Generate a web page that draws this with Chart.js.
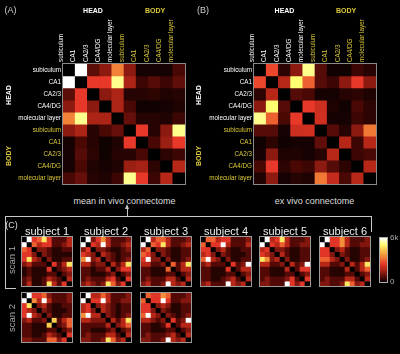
<!DOCTYPE html>
<html><head><meta charset="utf-8">
<script src="https://cdn.jsdelivr.net/npm/chart.js@4.4.1/dist/chart.umd.min.js"></script>
<style>
html,body{margin:0;padding:0;background:#000;width:400px;height:354px;overflow:hidden;}
#wrap{position:relative;width:400px;height:354px;font-family:"Liberation Sans",Arial,Helvetica,sans-serif;}
canvas{position:absolute;}
.t{position:absolute;white-space:nowrap;line-height:1;transform:translate(-50%,-50%);}
.v{transform:translate(-50%,-50%) rotate(-90deg);}
.ln{position:absolute;background:#c8c8c8;}
</style></head>
<body><div id="wrap">
<canvas id="cA" width="190" height="190" style="left:0;top:0"></canvas>
<canvas id="cB" width="190" height="190" style="left:191px;top:0"></canvas>
<canvas id="s1a" width="52" height="51" style="left:21px;top:236px"></canvas>
<canvas id="s2a" width="52" height="51" style="left:80px;top:236px"></canvas>
<canvas id="s3a" width="52" height="51" style="left:140px;top:236px"></canvas>
<canvas id="s4a" width="52" height="51" style="left:200px;top:236px"></canvas>
<canvas id="s5a" width="52" height="51" style="left:259px;top:236px"></canvas>
<canvas id="s6a" width="52" height="51" style="left:319px;top:236px"></canvas>
<canvas id="s1b" width="52" height="51" style="left:21px;top:292px"></canvas>
<canvas id="s2b" width="52" height="51" style="left:80px;top:292px"></canvas>
<canvas id="s3b" width="52" height="51" style="left:140px;top:292px"></canvas>
<canvas id="cbar" width="24" height="60" style="left:376px;top:230px"></canvas>

<div class="t" style="left:10.5px;top:10px;font-size:9px;color:#ccc">(A)</div>
<div class="t" style="left:203px;top:10px;font-size:9px;color:#ccc">(B)</div>
<div class="t" style="left:93px;top:9.5px;font-size:7px;font-weight:bold;color:#fff">HEAD</div>
<div class="t" style="left:155px;top:9.5px;font-size:7px;font-weight:bold;color:#dcc83a">BODY</div>
<div class="t" style="left:284.5px;top:9.5px;font-size:7px;font-weight:bold;color:#fff">HEAD</div>
<div class="t" style="left:346px;top:9.5px;font-size:7px;font-weight:bold;color:#dcc83a">BODY</div>
<div class="t v" style="left:8px;top:94.5px;font-size:7px;font-weight:bold;color:#fff">HEAD</div>
<div class="t v" style="left:8px;top:155.5px;font-size:7px;font-weight:bold;color:#dcc83a">BODY</div>
<div class="t v" style="left:198px;top:94.5px;font-size:7px;font-weight:bold;color:#fff">HEAD</div>
<div class="t v" style="left:198px;top:155.5px;font-size:7px;font-weight:bold;color:#dcc83a">BODY</div>
<div class="t" style="left:124.5px;top:200.5px;font-size:9px;color:#ddd">mean in vivo connectome</div>
<div class="t" style="left:314.5px;top:200.5px;font-size:9px;color:#ddd">ex vivo connectome</div>
<div class="t" style="left:11.5px;top:225px;font-size:9px;color:#ddd">(C)</div>
<div class="t" style="left:47px;top:230.5px;font-size:11px;color:#eee">subject 1</div>
<div class="t" style="left:106px;top:230.5px;font-size:11px;color:#eee">subject 2</div>
<div class="t" style="left:166px;top:230.5px;font-size:11px;color:#eee">subject 3</div>
<div class="t" style="left:226px;top:230.5px;font-size:11px;color:#eee">subject 4</div>
<div class="t" style="left:285px;top:230.5px;font-size:11px;color:#eee">subject 5</div>
<div class="t" style="left:345px;top:230.5px;font-size:11px;color:#eee">subject 6</div>
<div class="t v" style="left:11.5px;top:259.5px;font-size:9.5px;color:#aaa">scan 1</div>
<div class="t v" style="left:11.5px;top:317.5px;font-size:9.5px;color:#aaa">scan 2</div>

<div class="ln" style="left:5px;top:216px;width:367px;height:1px"></div>
<div class="ln" style="left:5px;top:216px;width:1px;height:73px"></div>
<div class="ln" style="left:5px;top:288px;width:11px;height:1px"></div>
<div class="ln" style="left:371px;top:216px;width:1px;height:16px"></div>
<div class="ln" style="left:127px;top:208px;width:1px;height:8px"></div>
<div style="position:absolute;left:125px;top:204px;width:0;height:0;border-left:2.5px solid transparent;border-right:2.5px solid transparent;border-bottom:5px solid #c8c8c8"></div>
</div>
<script>
// ---------------- data ----------------
const regions = ['subiculum','CA1','CA2/3','CA4/DG','molecular layer','subiculum','CA1','CA2/3','CA4/DG','molecular layer'];
const regionGroup = ['HEAD','HEAD','HEAD','HEAD','HEAD','BODY','BODY','BODY','BODY','BODY'];

// (A) mean in vivo connectome, normalised 0..1
const meanInVivo = [
  [0,1.0,0.13,0.22,0.57,0.22,0.03,0.03,0.03,0.10],
  [1.0,0,0.42,0.42,0.88,0.28,0.08,0.12,0.08,0.14],
  [0.13,0.42,0,0.22,0.28,0.05,0.05,0.06,0.04,0.05],
  [0.22,0.42,0.22,0,0.28,0.10,0.02,0.02,0.03,0.04],
  [0.57,0.88,0.28,0.28,0,0.15,0.05,0.05,0.04,0.08],
  [0.22,0.28,0.05,0.10,0.15,0,0.42,0.05,0.22,0.88],
  [0.03,0.10,0.05,0.02,0.04,0.42,0,0.10,0.25,0.42],
  [0.03,0.12,0.06,0.02,0.05,0.05,0.10,0,0.06,0.08],
  [0.03,0.10,0.04,0.03,0.04,0.25,0.27,0.06,0,0.30],
  [0.10,0.15,0.05,0.04,0.08,0.88,0.42,0.08,0.30,0]
];
// (B) ex vivo connectome, normalised 0..1
const exVivo = [
  [0,0.45,0.06,0.22,0.88,0.12,0.02,0.02,0.08,0.05],
  [0.45,0,0.30,0.85,0.50,0.12,0.08,0.22,0.42,0.22],
  [0.06,0.30,0,0.12,0.10,0.03,0.03,0.05,0.06,0.04],
  [0.22,0.85,0.12,0,0.42,0.35,0.04,0.02,0.10,0.06],
  [0.88,0.50,0.10,0.42,0,0.36,0.03,0.03,0.08,0.06],
  [0.12,0.12,0.03,0.35,0.36,0,0.12,0.05,0.22,0.55],
  [0.02,0.06,0.02,0.03,0.03,0.14,0,0.30,0.08,0.30],
  [0.03,0.22,0.04,0.04,0.03,0.05,0.30,0,0.08,0.10],
  [0.10,0.42,0.06,0.10,0.08,0.22,0.12,0.06,0,0.30],
  [0.04,0.22,0.03,0.05,0.04,0.55,0.33,0.10,0.30,0]
];
// (C) individual connectomes, streamline counts in thousands (colour bar 0..6k)
const cbarMax = 6;
const cbarTicks = [0, 6];
const s1scan1 = [
  [0,6,2.4,3,4.8,2.4,0.7,0.7,0.7,1.8],
  [6,0,3,1.8,2.4,2.4,0.7,0.7,1.2,1.8],
  [3,2.4,0,1.2,1.2,0.7,0.3,0.3,0.7,0.7],
  [2.4,2.4,1.2,0,1.2,0.7,0.3,0.3,0.3,0.3],
  [2.4,4.8,1.8,1.2,0,1.2,0.3,0.3,0.7,0.7],
  [1.2,1.8,0.7,0.7,0.7,0,2.4,0.7,1.8,4.8],
  [0.3,0.7,0.3,0.3,0.3,2.4,0,0.7,1.2,1.8],
  [0.3,0.7,0.3,0.3,0.3,0.7,0.7,0,0.7,1.2],
  [0.7,1.2,0.3,0.3,0.7,1.8,1.2,0.7,0,1.8],
  [0.7,1.8,0.3,0.3,0.7,4.8,1.8,0.7,2.4,0]
];
const s2scan1 = [
  [0,6,1.2,2.4,3.6,1.8,0.7,0.7,0.7,1.2],
  [6,0,2.4,1.8,6,1.8,0.7,0.7,1.2,1.8],
  [1.2,2.4,0,1.2,1.2,0.7,0.3,0.3,0.7,1.2],
  [2.4,1.8,1.2,0,1.8,1.2,0.7,0.3,0.7,0.7],
  [3.6,6,1.2,1.8,0,1.2,0.7,0.3,0.7,1.2],
  [1.8,1.8,0.7,1.2,1.2,0,1.8,0.7,1.8,4.8],
  [0.7,0.7,0.3,0.7,0.7,1.8,0,1.2,2.4,2.4],
  [0.7,0.7,0.3,0.3,0.3,0.7,1.2,0,0.7,1.2],
  [0.7,1.2,0.7,0.7,0.7,1.8,2.4,0.7,0,2.4],
  [1.2,1.8,1.2,0.7,1.2,4.8,3,1.2,2.4,0]
];
const s3scan1 = [
  [0,6,1.8,3,3,1.8,0.7,0.7,0.7,1.2],
  [6,0,3,2.4,4.8,1.8,0.7,0.7,1.2,1.8],
  [1.8,3,0,1.2,1.2,0.7,0.3,0.3,0.7,0.7],
  [3,2.4,1.2,0,1.2,0.7,0.3,0.3,0.7,0.7],
  [2.4,6,1.2,1.2,0,1.2,0.3,0.3,0.7,1.2],
  [1.8,1.8,0.7,0.7,1.2,0,3,0.7,1.8,4.8],
  [0.7,0.7,0.3,0.3,0.3,3,0,0.7,1.8,1.8],
  [0.7,0.7,0.3,0.3,0.3,0.7,0.7,0,0.7,1.2],
  [0.7,1.2,0.7,0.7,0.7,1.8,1.8,0.7,0,1.8],
  [1.2,1.8,0.7,0.7,1.2,6,1.8,1.2,1.8,0]
];
const s4scan1 = [
  [0,3,3,1.8,2.4,2.4,0.7,0.7,0.7,1.2],
  [3,0,2.4,2.4,6,1.8,0.7,0.7,0.7,1.8],
  [2.4,2.4,0,1.2,1.8,0.7,0.3,0.3,0.7,0.7],
  [1.8,2.4,1.2,0,1.2,0.7,0.3,0.3,0.3,0.7],
  [3,6,1.8,1.2,0,1.2,0.3,0.3,0.7,0.7],
  [1.2,1.8,0.7,0.7,0.7,0,2.4,0.7,1.2,6],
  [0.7,0.7,0.3,0.3,0.3,2.4,0,0.7,1.8,1.8],
  [0.7,0.7,0.3,0.3,0.3,0.7,0.7,0,0.7,1.2],
  [0.7,0.7,0.3,0.3,0.7,1.2,1.8,0.7,0,1.8],
  [1.2,1.8,0.7,0.7,0.7,6,1.8,1.2,1.8,0]
];
const s5scan1 = [
  [0,6,1.8,2.4,4.8,1.8,0.7,0.7,0.7,1.2],
  [6,0,2.4,1.8,3,1.8,0.7,0.7,1.2,1.2],
  [1.8,2.4,0,1.2,1.2,0.7,0.3,0.3,0.7,0.7],
  [2.4,1.8,1.2,0,1.8,0.7,0.3,0.3,0.7,0.7],
  [4.8,3.6,1.2,1.8,0,1.2,0.3,0.3,0.7,0.7],
  [1.8,1.8,0.7,0.7,1.2,0,1.8,0.7,1.2,6],
  [0.7,0.7,0.3,0.3,0.3,1.8,0,0.7,2.4,2.4],
  [0.7,0.7,0.3,0.3,0.3,0.7,0.7,0,0.7,1.2],
  [0.7,1.2,0.7,0.7,0.7,1.2,2.4,0.7,0,2.4],
  [1.2,1.2,0.7,0.7,0.7,6,2.4,1.2,2.4,0]
];
const s6scan1 = [
  [0,6,2.4,2.4,3.6,1.8,0.7,0.7,0.7,1.2],
  [6,0,2.4,2.4,3.6,1.8,0.7,0.7,1.2,1.2],
  [2.4,2.4,0,1.2,1.8,0.7,0.3,0.3,0.7,0.7],
  [2.4,2.4,1.2,0,1.2,0.7,0.3,0.3,0.7,0.7],
  [3,3,1.8,1.2,0,1.2,0.3,0.3,0.7,1.2],
  [1.8,1.8,0.7,0.7,1.2,0,1.8,0.7,1.8,4.8],
  [0.7,0.7,0.3,0.3,0.3,1.8,0,0.7,1.8,3],
  [0.7,0.7,0.3,0.3,0.3,0.7,0.7,0,0.7,1.2],
  [0.7,1.2,0.7,0.7,0.7,1.8,1.8,0.7,0,1.8],
  [1.2,1.2,0.7,0.7,1.2,4.8,3,1.2,1.8,0]
];
const s1scan2 = [
  [0,6,2.4,2.4,3,1.2,0.7,0.7,0.7,1.2],
  [6,0,3.6,1.8,6,1.8,0.7,0.7,0.7,1.2],
  [2.4,4.8,0,1.2,1.8,0.7,0.3,0.3,0.7,0.7],
  [2.4,1.8,1.2,0,1.2,0.7,0.3,0.3,0.3,0.7],
  [2.4,6,1.8,1.2,0,1.2,0.3,0.3,0.7,0.7],
  [1.2,1.8,0.7,0.7,1.2,0,4.5,0.7,1.8,3],
  [0.7,0.7,0.3,0.3,0.3,4.5,0,0.7,1.2,3],
  [0.7,0.7,0.3,0.3,0.3,0.7,0.7,0,0.7,1.2],
  [0.7,0.7,0.3,0.3,0.7,1.8,1.2,0.7,0,2.4],
  [1.2,1.2,0.7,0.7,0.7,3,3,1.2,2.4,0]
];
const s2scan2 = [
  [0,6,1.8,1.8,3,1.8,0.7,0.7,0.7,1.2],
  [6,0,2.4,2.4,6,1.8,0.7,0.7,1.2,1.2],
  [1.8,2.4,0,1.2,1.8,1.2,0.7,0.3,0.7,0.7],
  [1.8,2.4,1.2,0,1.8,1.2,0.7,0.3,0.7,0.7],
  [3.6,6,1.8,1.8,0,1.2,0.7,0.3,0.7,1.2],
  [1.8,1.8,1.2,1.2,1.2,0,1.8,0.7,1.8,4.8],
  [0.7,0.7,0.7,0.7,0.7,1.8,0,1.2,1.8,3],
  [0.7,0.7,0.3,0.3,0.3,0.7,1.2,0,0.7,1.2],
  [0.7,1.2,0.7,0.7,0.7,1.8,1.8,0.7,0,1.8],
  [1.2,1.2,0.7,0.7,1.2,4.8,3,1.2,1.8,0]
];
const s3scan2 = [
  [0,3,2.4,2.4,3.6,3,0.7,0.7,0.7,1.2],
  [3,0,2.4,2.4,6,2.4,0.7,0.7,1.2,1.2],
  [2.4,2.4,0,1.2,1.8,1.2,0.3,0.3,0.7,0.7],
  [2.4,2.4,1.2,0,1.2,0.7,0.3,0.3,0.7,0.7],
  [3,6,1.8,1.2,0,1.2,0.7,0.3,0.7,1.2],
  [1.8,1.8,1.2,0.7,1.2,0,2.4,0.7,1.2,6],
  [0.7,0.7,0.3,0.3,0.7,2.4,0,0.7,1.8,1.8],
  [0.7,0.7,0.3,0.3,0.3,0.7,0.7,0,0.7,1.2],
  [0.7,1.2,0.7,0.7,0.7,1.2,1.8,0.7,0,1.8],
  [1.2,1.2,0.7,0.7,1.2,6,1.8,1.2,1.8,0]
];

// ---------------- rendering ----------------
const FONT = '"Liberation Sans", Arial, Helvetica, sans-serif';
const YELLOW = '#dcc83a';
const groupColor = i => regionGroup[i] === 'HEAD' ? '#ffffff' : YELLOW;

// "hot"-style colour map, as it appears in the figure
const HOT_STOPS = [
  [0.00, [0, 0, 0]], [0.10, [74, 8, 5]], [0.22, [140, 26, 16]], [0.32, [192, 42, 26]],
  [0.42, [232, 56, 42]], [0.55, [240, 122, 53]], [0.70, [248, 184, 69]],
  [0.85, [255, 255, 112]], [1.00, [255, 255, 255]]
];
function hot(t) {
  t = Math.max(0, Math.min(1, t));
  for (let i = 1; i < HOT_STOPS.length; i++) {
    const [t1, c1] = HOT_STOPS[i], [t0, c0] = HOT_STOPS[i - 1];
    if (t <= t1) {
      const f = (t - t0) / (t1 - t0);
      const c = c0.map((v, k) => Math.round(v + (c1[k] - v) * f));
      return `rgb(${c[0]},${c[1]},${c[2]})`;
    }
  }
  return 'rgb(255,255,255)';
}

const framePlugin = color => ({
  id: 'frame',
  afterDatasetsDraw(chart) {
    const a = chart.chartArea, c = chart.ctx;
    c.save();
    c.strokeStyle = color; c.lineWidth = 1;
    c.strokeRect(Math.round(a.left) - 0.5, Math.round(a.top) - 0.5,
                 Math.round(a.right - a.left) + 1, Math.round(a.bottom - a.top) + 1);
    c.restore();
  }
});

function cellDatasets(matrix, maxVal) {
  return matrix.map((row, r) => ({
    label: regions[r],
    data: row.map(() => 1),
    backgroundColor: row.map(v => hot(v / maxVal)),
    borderWidth: 0,
    barPercentage: 1,
    categoryPercentage: 1
  }));
}

const baseOpts = {
  responsive: false, animation: false, events: [],
  plugins: { legend: { display: false }, tooltip: { enabled: false } }
};

function mainHeat(id, matrix) {
  new Chart(document.getElementById(id), {
    type: 'bar',
    data: { labels: regions, datasets: cellDatasets(matrix, 1) },
    options: Object.assign({}, baseOpts, {
      layout: { padding: { left: 3, right: 5, top: 0, bottom: 4 } },
      scales: {
        x: {
          position: 'top', stacked: true,
          grid: { display: false, drawTicks: false, tickLength: 0 }, border: { display: false },
          ticks: { autoSkip: false, maxRotation: 90, minRotation: 90, padding: 2,
                   color: c => groupColor(c.index), font: { size: 6.3, family: FONT } },
          afterFit: s => { s.height = 64; }
        },
        y: { stacked: true, reverse: true, min: 0, max: 10, display: false },
        yl: {
          type: 'category', labels: regions, position: 'left', offset: true,
          grid: { display: false, drawTicks: false, tickLength: 0 }, border: { display: false },
          ticks: { autoSkip: false, padding: 2,
                   color: c => groupColor(c.index), font: { size: 6.3, family: FONT } },
          afterFit: s => { s.width = 60; }
        }
      }
    }),
    plugins: [framePlugin('#8a8a8a')]
  });
}

function smallHeat(id, matrix) {
  new Chart(document.getElementById(id), {
    type: 'bar',
    data: { labels: regions, datasets: cellDatasets(matrix, cbarMax) },
    options: Object.assign({}, baseOpts, {
      layout: { padding: 1 },
      scales: {
        x: { stacked: true, display: false },
        y: { stacked: true, reverse: true, min: 0, max: 10, display: false }
      }
    }),
    plugins: [framePlugin('#9a9a9a')]
  });
}

mainHeat('cA', meanInVivo);
mainHeat('cB', exVivo);
smallHeat('s1a', s1scan1);
smallHeat('s2a', s2scan1);
smallHeat('s3a', s3scan1);
smallHeat('s4a', s4scan1);
smallHeat('s5a', s5scan1);
smallHeat('s6a', s6scan1);
smallHeat('s1b', s1scan2);
smallHeat('s2b', s2scan2);
smallHeat('s3b', s3scan2);

// colour bar
new Chart(document.getElementById('cbar'), {
  type: 'bar',
  data: { labels: [''], datasets: [{
    data: [cbarMax], borderWidth: 0, barPercentage: 1, categoryPercentage: 1,
    backgroundColor: ctx => {
      const a = ctx.chart.chartArea; if (!a) return '#000';
      const g = ctx.chart.ctx.createLinearGradient(0, a.bottom, 0, a.top);
      for (let i = 0; i <= 20; i++) g.addColorStop(i / 20, hot(i / 20));
      return g;
    }
  }] },
  options: Object.assign({}, baseOpts, {
    layout: { padding: { left: 4, top: 8, bottom: 7, right: 0 } },
    scales: {
      x: { display: false },
      y: {
        position: 'right', min: 0, max: cbarMax,
        grid: { display: false, drawTicks: false, tickLength: 0 }, border: { display: false },
        afterBuildTicks: ax => { ax.ticks = cbarTicks.map(v => ({ value: v })); },
        ticks: { padding: 3, color: '#aaa', font: { size: 8, family: FONT },
                 callback: v => v === 0 ? '0' : v + 'k' },
        afterFit: s => { s.width = 13; }
      }
    }
  }),
  plugins: [framePlugin('#aaaaaa')]
});
</script>
</body></html>
